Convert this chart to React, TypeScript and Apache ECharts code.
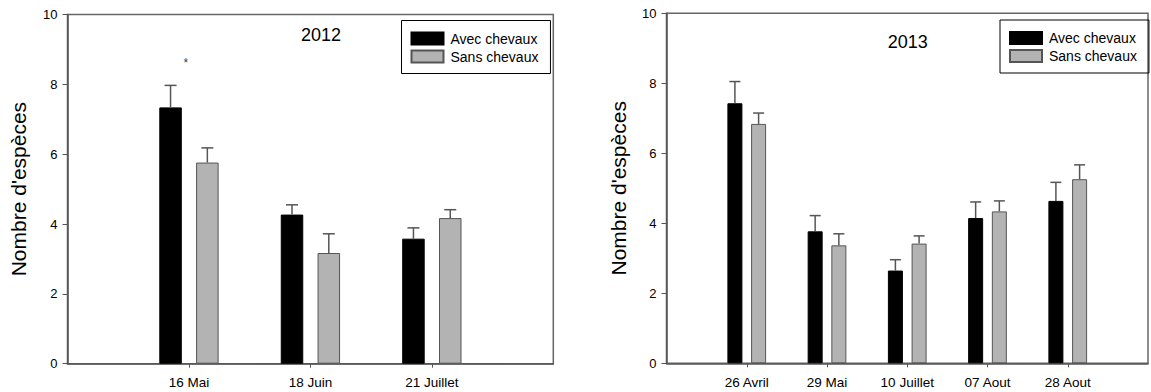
import React, { useEffect, useRef } from 'react';
import * as echarts from 'echarts';

const FONT = '"Liberation Sans", Arial, Helvetica, sans-serif';

const seriesNames = ['Avec chevaux', 'Sans chevaux'];
const yAxisName = "Nombre d'espèces";
const yMin = 0;
const yMax = 10;
const yStep = 2;

// 2012
const title2012 = '2012';
const categories2012 = ['16 Mai', '18 Juin', '21 Juillet'];
const avec2012 = [7.34, 4.27, 3.58];
const avec2012Err = [0.63, 0.28, 0.31];
const sans2012 = [5.76, 3.17, 4.17];
const sans2012Err = [0.42, 0.55, 0.24];
const signif2012 = [{ category: '16 Mai', value: 8.6, mark: '*' }];

// 2013
const title2013 = '2013';
const categories2013 = ['26 Avril', '29 Mai', '10 Juillet', '07 Aout', '28 Aout'];
const avec2013 = [7.43, 3.77, 2.65, 4.15, 4.64];
const avec2013Err = [0.62, 0.45, 0.31, 0.46, 0.53];
const sans2013 = [6.84, 3.37, 3.42, 4.34, 5.26];
const sans2013Err = [0.31, 0.33, 0.22, 0.3, 0.41];

const padCats = (c: string[]) => ['', ...c, ''];
const padVals = (v: number[]) => ['-', ...v, '-'];
const errData = (vals: number[], errs: number[]) => vals.map((v, i) => [i + 1, v, v + errs[i]]);

const errRender = (offset: number, capHalf: number) => (params: any, api: any) => {
  const base = api.coord([api.value(0), api.value(1)]);
  const top = api.coord([api.value(0), api.value(2)]);
  const x = base[0] + offset;
  return {
    type: 'group',
    children: [
      { type: 'line', shape: { x1: x, y1: base[1], x2: x, y2: top[1] }, style: { stroke: '#555', lineWidth: 1.5 } },
      { type: 'line', shape: { x1: x - capHalf, y1: top[1], x2: x + capHalf, y2: top[1] }, style: { stroke: '#555', lineWidth: 1.5 } },
    ],
  };
};

const panels = [
  {
    cats: categories2012, avec: avec2012, avecErr: avec2012Err, sans: sans2012, sansErr: sans2012Err,
    grid: { left: 67.5, top: 14.5, width: 485.8, height: 349.2 },
    barWidth: 22.5, gapPx: 14.3, cap: 6, nameGap: 39,
    legend: { left: 401.5, top: 20.5 },
    title: title2012, titlePos: [321, 35],
  },
  {
    cats: categories2013, avec: avec2013, avecErr: avec2013Err, sans: sans2013, sansErr: sans2013Err,
    grid: { left: 666.5, top: 13.3, width: 489, height: 350 },
    barWidth: 15, gapPx: 8.7, cap: 5.5, nameGap: 38,
    legend: { left: 1000, top: 20 },
    title: title2013, titlePos: [907.7, 41.7],
  },
];

export default function App() {
  const ref = useRef<HTMLDivElement>(null);
  useEffect(() => {
    if (!ref.current) return;
    const chart = echarts.init(ref.current, null, { renderer: 'svg' });
    const grids: any[] = [];
    const xAxes: any[] = [];
    const yAxes: any[] = [];
    const series: any[] = [];
    const legends: any[] = [];
    const graphics: any[] = [];
    panels.forEach((p, gi) => {
      grids.push({ ...p.grid, show: true, borderColor: '#666', borderWidth: 1.5, containLabel: false });
      xAxes.push({
        type: 'category', gridIndex: gi, data: padCats(p.cats), boundaryGap: false,
        axisLine: { show: true, lineStyle: { color: '#555', width: 1.5 } },
        axisTick: { show: true, interval: (i: number, v: string) => v !== '', length: 4, lineStyle: { color: '#555' } },
        axisLabel: { interval: 0, fontSize: 13.5, color: '#000', fontFamily: FONT, margin: 12 },
        splitLine: { show: false },
      });
      yAxes.push({
        type: 'value', gridIndex: gi, min: yMin, max: yMax, interval: yStep,
        axisLine: { show: true, lineStyle: { color: '#555', width: 1.5 } },
        axisTick: { show: true, length: 5, lineStyle: { color: '#555' } },
        axisLabel: { fontSize: 13, color: '#000', fontFamily: FONT, margin: 10 },
        splitLine: { show: false },
        name: yAxisName, nameLocation: 'middle', nameGap: p.nameGap,
        nameTextStyle: { fontSize: 21, color: '#000', fontFamily: FONT },
      });
      const gap = `${(p.gapPx / p.barWidth) * 100}%`;
      const off = (p.barWidth + p.gapPx) / 2;
      series.push({
        type: 'bar', name: seriesNames[0], xAxisIndex: gi, yAxisIndex: gi, data: padVals(p.avec),
        barWidth: p.barWidth, barGap: gap,
        itemStyle: { color: '#000', borderColor: '#000', borderWidth: 1 },
      });
      series.push({
        type: 'bar', name: seriesNames[1], xAxisIndex: gi, yAxisIndex: gi, data: padVals(p.sans),
        barWidth: p.barWidth, barGap: gap,
        itemStyle: { color: '#b3b3b3', borderColor: '#555', borderWidth: 1 },
      });
      series.push({
        type: 'custom', name: 'err-a-' + gi, xAxisIndex: gi, yAxisIndex: gi,
        renderItem: errRender(-off, p.cap), data: errData(p.avec, p.avecErr), z: 3, silent: true,
      });
      series.push({
        type: 'custom', name: 'err-s-' + gi, xAxisIndex: gi, yAxisIndex: gi,
        renderItem: errRender(off, p.cap), data: errData(p.sans, p.sansErr), z: 3, silent: true,
      });
      legends.push({
        orient: 'vertical', left: p.legend.left, top: p.legend.top, data: seriesNames,
        itemWidth: 32, itemHeight: 12, itemGap: 4, padding: [11, 12, 10, 9],
        borderColor: '#000', borderWidth: 1, icon: 'rect', selectedMode: false,
        textStyle: { fontSize: 14, color: '#000', fontFamily: FONT, lineHeight: 14, padding: [0, 0, 0, 2] },
      });
      graphics.push({
        type: 'text', x: p.titlePos[0], y: p.titlePos[1],
        style: { text: p.title, fontSize: 18, fontFamily: FONT, fill: '#000', align: 'center', verticalAlign: 'middle', textAlign: 'center', textVerticalAlign: 'middle' },
      });
    });
    series.push({
      type: 'scatter', name: 'signif', xAxisIndex: 0, yAxisIndex: 0, symbolSize: 0, silent: true,
      data: signif2012.map((s) => [categories2012.indexOf(s.category) + 1, s.value]),
      label: { show: true, formatter: signif2012[0].mark, position: 'inside', fontSize: 12, color: '#000', fontFamily: FONT, offset: [-3, 0] },
    });
    chart.setOption({
      animation: false,
      backgroundColor: '#fff',
      textStyle: { fontFamily: FONT },
      grid: grids, xAxis: xAxes, yAxis: yAxes, series, legend: legends, graphic: graphics,
    });
    return () => chart.dispose();
  }, []);
  return <div ref={ref} style={{ position: 'fixed', left: 0, top: 0, width: 1151, height: 392 }} />;
}
